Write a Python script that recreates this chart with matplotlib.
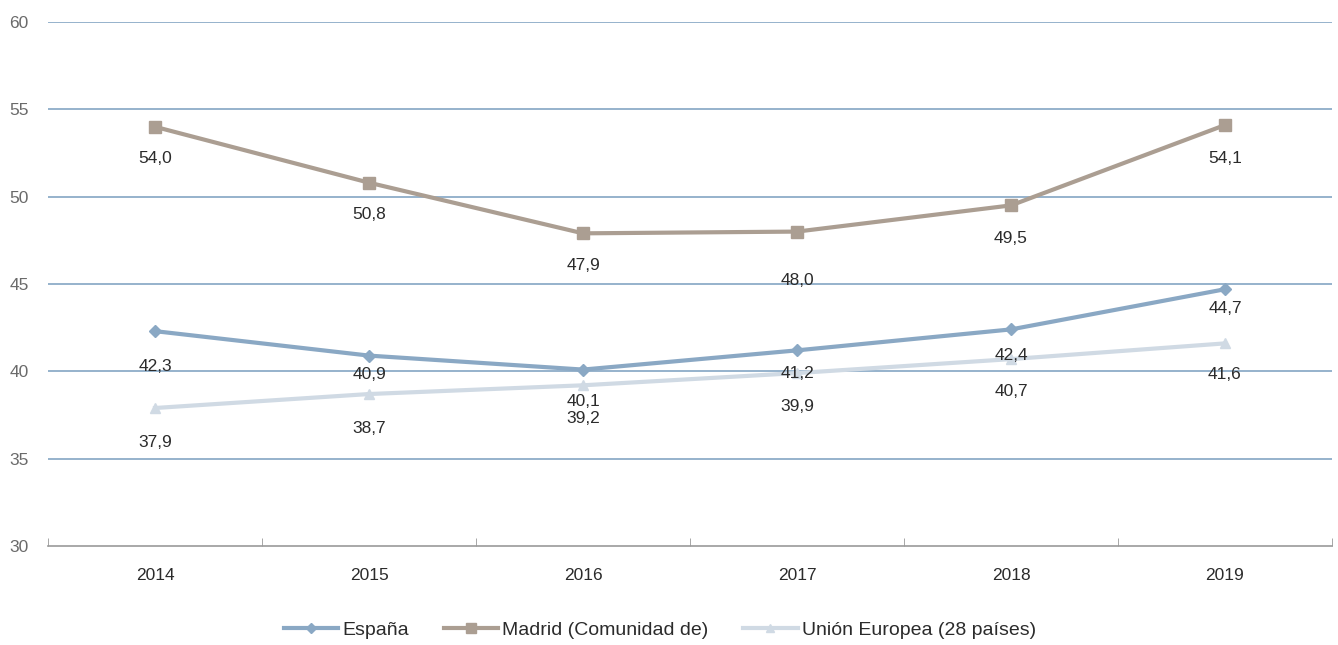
import matplotlib.pyplot as plt
from matplotlib.ticker import MultipleLocator, FixedLocator

years = ["2014", "2015", "2016", "2017", "2018", "2019"]
espana = [42.3, 40.9, 40.1, 41.2, 42.4, 44.7]
madrid = [54.0, 50.8, 47.9, 48.0, 49.5, 54.1]
ue28 = [37.9, 38.7, 39.2, 39.9, 40.7, 41.6]

# label offsets below each point, in pixels (layout only)
off_espana = [35, 19, 32, 23, 26, 19]
off_madrid = [32, 32, 32, 49, 33, 33]
off_ue28 = [34, 34, 33, 33, 32, 31]

plt.rcParams["font.family"] = ["Liberation Sans", "DejaVu Sans"]

fig = plt.figure(figsize=(13.38, 6.45), dpi=100)
ax = fig.add_axes([0.0359, 0.1535, 0.9596, 0.8124])

x = list(range(len(years)))
series = [
    ("España", espana, "#8aa8c4", "D", 6.5, off_espana),
    ("Madrid (Comunidad de)", madrid, "#ab9e92", "s", 8, off_madrid),
    ("Unión Europea (28 países)", ue28, "#d0dae4", "^", 7.5, off_ue28),
]

ax.set_ylim(30, 60)
ax.set_xlim(-0.5, len(years) - 0.5)
for y in range(35, 61, 5):
    ax.axhline(y, color="#8eadc8", lw=1.3, zorder=0)

for name, vals, col, mk, ms, offs in series:
    ax.plot(x, vals, color=col, lw=3, marker=mk, ms=ms, label=name, zorder=3)
    for xi, v, o in zip(x, vals, offs):
        ax.annotate(f"{v:.1f}".replace(".", ","), (xi, v), xytext=(0, -o),
                    textcoords="offset pixels", ha="center", va="center",
                    fontsize=12.5, color="#2b2b2b", zorder=4)

ax.yaxis.set_major_locator(MultipleLocator(5))
ax.set_xticks(x)
ax.set_xticklabels(years)
ax.xaxis.set_minor_locator(FixedLocator([i - 0.5 for i in range(len(years) + 1)]))
ax.tick_params(axis="x", which="major", length=0, pad=16, labelsize=12.5, labelcolor="#2b2b2b")
ax.tick_params(axis="x", which="minor", length=6, color="#999999", direction="in")
ax.tick_params(axis="y", length=0, pad=14, labelsize=12.5, labelcolor="#6a6a6a")

for s in ["top", "right", "left"]:
    ax.spines[s].set_visible(False)
ax.spines["bottom"].set_color("#999999")
ax.spines["bottom"].set_linewidth(1.2)

leg = fig.legend(loc="lower center", bbox_to_anchor=(0.493, -0.018), ncol=3, frameon=False,
                 fontsize=14, handlelength=2.8, columnspacing=1.8, handletextpad=0.2,
                 markerscale=0.85)
for t in leg.get_texts():
    t.set_color("#2b2b2b")

fig.savefig("out.png", dpi=100)
